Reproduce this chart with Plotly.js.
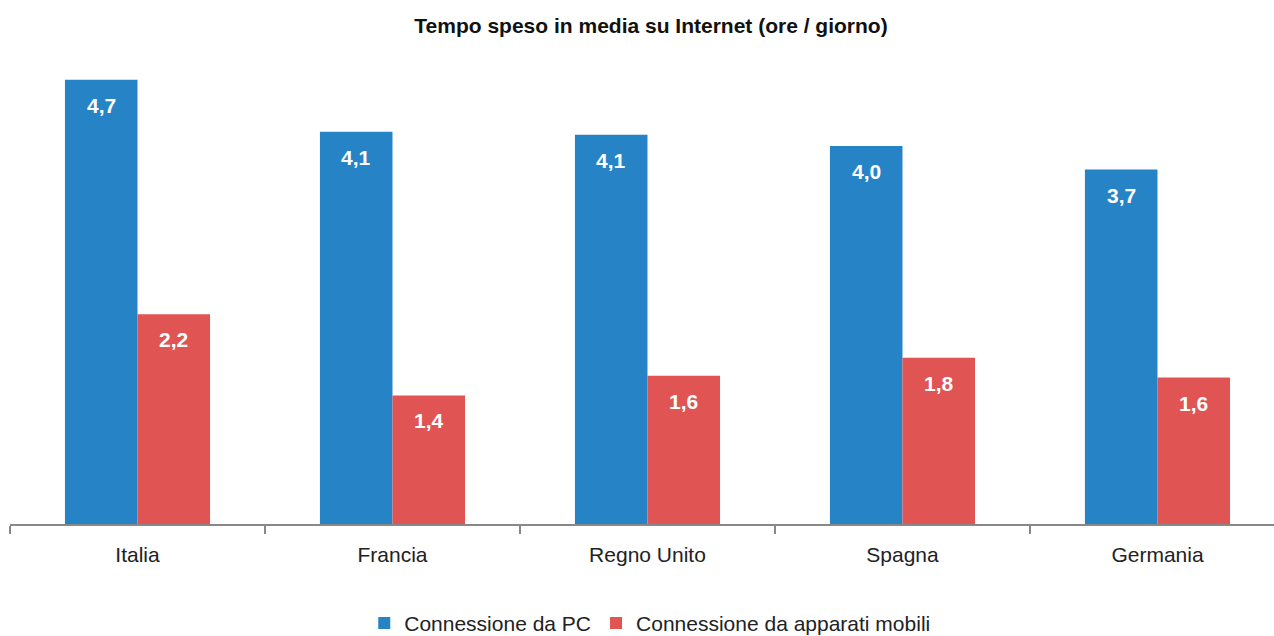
<!DOCTYPE html>
<html>
<head>
<meta charset="utf-8">
<script src="https://cdn.plot.ly/plotly-3.0.1.min.js"></script>
<style>html,body{margin:0;padding:0;background:#fff;}#chart{width:1274px;height:636px;}</style>
</head>
<body>
<div id="chart"></div>
<script>
const categories = ["Italia", "Francia", "Regno Unito", "Spagna", "Germania"];
const pcValues = [4.7, 4.15, 4.12, 4.0, 3.75];
const mobileValues = [2.22, 1.36, 1.57, 1.76, 1.55];
const pcLabels = ["4,7", "4,1", "4,1", "4,0", "3,7"];
const mobileLabels = ["2,2", "1,4", "1,6", "1,8", "1,6"];
const seriesNames = ["Connessione da PC", "Connessione da apparati mobili"];

const FONT = "'Liberation Sans Narrow', 'Arial Narrow', 'Liberation Sans', Arial, sans-serif";
const BLUE = "#2683c6";
const RED = "#e05553";

const traces = [
  {type: "bar", name: seriesNames[0], x: categories, y: pcValues, marker: {color: BLUE}, hoverinfo: "skip"},
  {type: "bar", name: seriesNames[1], x: categories, y: mobileValues, marker: {color: RED}, hoverinfo: "skip"}
];

const bargap = 0.431;
const half = (1 - bargap) / 4;
const annotations = [];
categories.forEach((c, i) => {
  annotations.push({xref: "x", yref: "y", x: i - half, y: pcValues[i], text: "<b>" + pcLabels[i] + "</b>",
    showarrow: false, yanchor: "top", yshift: -12, font: {family: FONT, size: 21, color: "#ffffff"}});
  annotations.push({xref: "x", yref: "y", x: i + half, y: mobileValues[i], text: "<b>" + mobileLabels[i] + "</b>",
    showarrow: false, yanchor: "top", yshift: -12, font: {family: FONT, size: 21, color: "#ffffff"}});
});

const layout = {
  width: 1274, height: 636,
  margin: {l: 10, r: 0, t: 60, b: 112},
  paper_bgcolor: "#ffffff", plot_bgcolor: "#ffffff",
  barmode: "group", bargap: bargap, bargroupgap: 0,
  title: {text: "<b>Tempo speso in media su Internet (ore / giorno)</b>", x: 0.511, xanchor: "center", y: 0.96, yanchor: "middle",
    font: {family: FONT, size: 21, color: "#111111"}},
  xaxis: {type: "category", range: [-0.5, 4.457], tickson: "boundaries", ticks: "outside", ticklen: 8, tickcolor: "#888888", tickwidth: 1.5,
    ticklabelstandoff: 11,
    showline: true, linecolor: "#888888", linewidth: 2, showgrid: false, zeroline: false,
    tickfont: {family: FONT, size: 21, color: "#222222"}, fixedrange: true},
  yaxis: {range: [0, 4.91], visible: false, showgrid: false, zeroline: false, fixedrange: true},
  showlegend: true,
  legend: {orientation: "h", x: 0.51, xanchor: "center", xref: "container", y: 0.02, yanchor: "middle", yref: "container",
    font: {family: FONT, size: 21, color: "#222222"}, itemwidth: 30, traceorder: "normal"},
  annotations: annotations
};

Plotly.newPlot("chart", traces, layout, {displayModeBar: false, staticPlot: true});
</script>
</body>
</html>
